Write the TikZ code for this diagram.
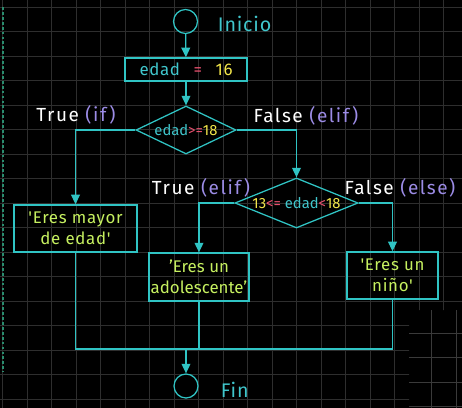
\documentclass[tikz,border=0pt]{standalone}
\usepackage{fontspec}
\setmainfont{Fira Sans}
\newfontfamily\ancha{Fira Sans}[LetterSpace=8]
\newfontfamily\media{Fira Sans}[LetterSpace=4]
\usetikzlibrary{shapes.geometric, arrows.meta, positioning}
\definecolor{lineaCian}{HTML}{30C4C4}
\definecolor{textoCian}{HTML}{40C6CC}
\definecolor{opRosa}{HTML}{E8506E}
\definecolor{numAmarillo}{HTML}{F2E64A}
\definecolor{textoLima}{HTML}{C6F060}
\definecolor{morado}{HTML}{9C8CE6}
\definecolor{gridGris}{HTML}{2E2E2E}
\definecolor{gridClaro}{HTML}{3A3A3A}
\definecolor{bordeVerde}{HTML}{2A8C6E}
\newcommand{\ed}{\textcolor{textoCian}{edad}}
\newcommand{\op}[1]{\textcolor{opRosa}{#1}}
\newcommand{\nm}[1]{\textcolor{numAmarillo}{#1}}
\begin{document}
\begin{tikzpicture}[x=0.025cm, y=-0.025cm, font=\fontsize{12}{15}\selectfont,
        >={Triangle[length=2.4mm, width=2.2mm]},
        circulo/.style={circle, draw=lineaCian, line width=0.9pt, minimum size=0.6cm, inner sep=0pt},
        caja/.style={draw=lineaCian, line width=0.9pt, inner sep=0pt, align=center, text=textoLima},
        decision/.style={diamond, draw=lineaCian, line width=0.9pt, inner sep=0pt,
            font=\fontsize{10.5}{12}\selectfont},
        flujo/.style={lineaCian, line width=0.9pt},
        flecha/.style={flujo, ->},
        etiq/.style={text=white, font=\ancha\fontsize{13.5}{15}\selectfont},
        rejilla/.style={gridGris, line width=0.6pt}]
    \useasboundingbox (0,0) rectangle (462,408);
    \fill[black] (0,0) rectangle (462,408);
    % rejilla de fondo
    \begin{scope}
        \clip (0,0) -- (462,0) -- (462,310) -- (409,310) -- (409,408) -- (0,408) -- cycle;
        \foreach \i in {0,...,18} \draw[rejilla] ({2.8+24.5*\i},0) -- ++(0,408);
        \foreach \i in {0,...,16} \draw[rejilla] (0,{7.3+24.5*\i}) -- ++(462,0);
    \end{scope}
    \begin{scope}
        \clip (409,310) rectangle (462,408);
        \foreach \x in {431.7,456.2} \draw[gridClaro, line width=0.6pt] (\x,310) -- (\x,408);
        \foreach \y in {333,357.5,382,406.5} \draw[gridClaro, line width=0.6pt] (409,\y) -- (462,\y);
    \end{scope}
    \draw[bordeVerde, line width=1pt, dash pattern=on 2pt off 1.5pt] (3,7) -- (3,372);

    % nodos
    \node[circulo] (inicio) at (185.5,21.5) {};
    \node[text=textoCian, font=\media\fontsize{14}{16}\selectfont, anchor=west] (tInicio) at (213,24) {Inicio};
    \node[caja, minimum width=3.05cm, minimum height=0.58cm, font=\media\fontsize{12}{15}\selectfont] (asig) at (186,69.5)
        {\ed\hspace{0.8em}\op{=}\hspace{0.8em}\nm{16}};
    \node[decision, aspect=2.2, minimum width=2.5cm, minimum height=1.2cm] (cond1) at (186,130)
        {\ed\op{>=}\nm{18}};
    \node[decision, aspect=2.5, minimum width=3.08cm, minimum height=1.25cm] (cond2) at (296.5,203)
        {\nm{13}\op{<=} \ed\op{<}\nm{18}};
    \node[caja, minimum width=3.08cm, minimum height=1.18cm, font=\media\fontsize{12}{15}\selectfont] (mayor) at (75.5,228.5)
        {'Eres mayor\\de edad'};
    \node[caja, minimum width=2.5cm, minimum height=1.2cm] (adol) at (199,277)
        {'Eres un\\adolescente'};
    \node[caja, minimum width=2.28cm, minimum height=1.18cm, font=\media\fontsize{12}{15}\selectfont] (nino) at (392.5,275.5)
        {'Eres un\\niño'};
    \coordinate (unir) at (186,349);
    \node[circulo] (fin) at (186,386) {};
    \node[text=textoCian, font=\media\fontsize{14}{16}\selectfont, anchor=west] (tFin) at (216,390) {Fin};

    % etiquetas
    \node[etiq] (lIf) at (76,115) {True \textcolor{morado}{(if)}};
    \node[etiq] (lElif) at (306,116) {False \textcolor{morado}{(elif)}};
    \node[etiq] (lElif2) at (201,188) {True \textcolor{morado}{(elif)}};
    \node[etiq] (lElse) at (400,188) {False \textcolor{morado}{(else)}};

    % conectores
    \draw[flecha] (inicio) -- (asig);
    \draw[flecha] (asig) -- (cond1);
    \draw[flecha] (cond1.west) -| (mayor.north);
    \draw[flecha] (cond1.east) -| (cond2.north);
    \draw[flecha] (cond2.west) -| (adol.north);
    \draw[flecha] (cond2.east) -| (nino.north);
    \draw[flujo] (mayor.south) -- (mayor.south |- unir) -- (nino.south |- unir) -- (nino.south);
    \draw[flujo] (adol.south) -- (adol.south |- unir);
    \draw[flecha] (unir) -- (fin);
\end{tikzpicture}
\end{document}
